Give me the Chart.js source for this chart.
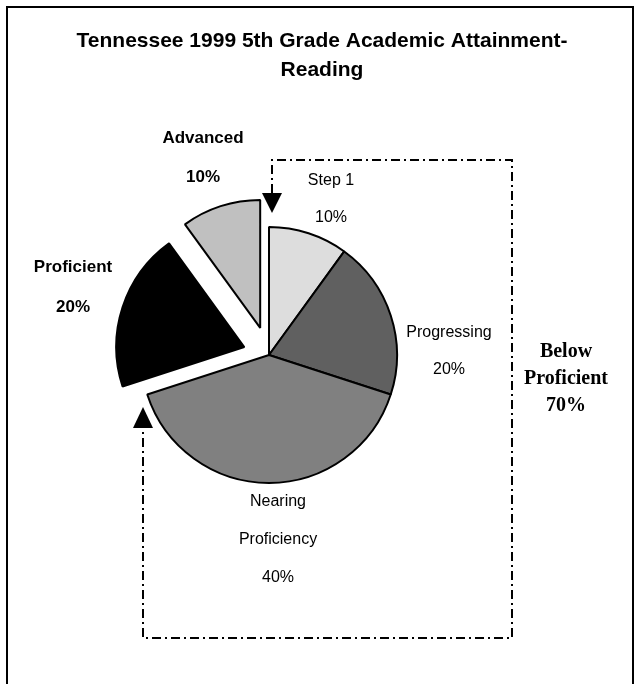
<!DOCTYPE html>
<html>
<head>
<meta charset="utf-8">
<style>
  html, body { margin: 0; padding: 0; background: #ffffff; }
</style>
</head>
<body>
<canvas id="pieChart" width="634" height="684"></canvas>
<script src="https://cdn.jsdelivr.net/npm/chart.js@4/dist/chart.umd.min.js"></script>
<script>
// chart values
const titleLines = ['Tennessee 1999 5th Grade Academic Attainment-', 'Reading'];
const categories = ['Step 1', 'Progressing', 'Nearing Proficiency', 'Proficient', 'Advanced'];
const percents = [10, 20, 40, 20, 10];
const labelLines = [['Step 1'], ['Progressing'], ['Nearing', 'Proficiency'], ['Proficient'], ['Advanced']];
const groupLines = ['Below', 'Proficient'];
const groupMembers = [0, 1, 2]; // slices inside the dashed bracket

// look
const sliceColors = ['#dddddd', '#606060', '#808080', '#000000', '#c0c0c0'];
// how far (px) each slice is pulled out from the centre
const sliceExplode = [0, 0, 0, 26, 28.5];
const boldLabels = [false, false, false, true, true];
// label position of first line, relative to pie centre, and line spacing
const labelOffsets = [[62, -174], [180, -22], [9, 147], [-196, -88], [-66, -217]];
const labelSpacing = [37, 37, 38, 40, 39];

// chart.js "offset" also narrows the slice, so move the arc centre instead
const explode = {
    id: 'explode',
    afterDatasetUpdate(chart, args) {
        const area = chart.chartArea;
        const cx = (area.left + area.right) / 2;
        const cy = (area.top + area.bottom) / 2;
        args.meta.data.forEach((arc, i) => {
            const mid = (arc.startAngle + arc.endAngle) / 2;
            arc.x = cx + Math.cos(mid) * sliceExplode[i];
            arc.y = cy + Math.sin(mid) * sliceExplode[i];
        });
    }
};

const overlay = {
    id: 'overlay',
    afterDraw(chart) {
        const ctx = chart.ctx;
        const arcs = chart.getDatasetMeta(0).data;
        const cx = arcs[0].x;
        const cy = arcs[0].y;

        ctx.save();
        // outer frame
        ctx.strokeStyle = '#000';
        ctx.lineWidth = 2;
        ctx.beginPath();
        ctx.moveTo(7, 700);
        ctx.lineTo(7, 7);
        ctx.lineTo(633, 7);
        ctx.lineTo(633, 700);
        ctx.stroke();

        // title
        ctx.fillStyle = '#000';
        ctx.textAlign = 'center';
        ctx.textBaseline = 'middle';
        ctx.font = 'bold 21px "Liberation Sans", Arial, sans-serif';
        titleLines.forEach((t, i) => ctx.fillText(t, 322, 41 + i * 29));

        // slice labels
        const total = percents.reduce((a, b) => a + b, 0);
        arcs.forEach((arc, i) => {
            const pct = Math.round(percents[i] / total * 100) + '%';
            const lines = labelLines[i].concat([pct]);
            ctx.font = (boldLabels[i] ? 'bold 17px ' : '16px ') + '"Liberation Sans", Arial, sans-serif';
            lines.forEach((t, j) => {
                ctx.fillText(t, cx + labelOffsets[i][0], cy + labelOffsets[i][1] + j * labelSpacing[i]);
            });
        });

        // group label
        const groupPct = groupMembers.reduce((s, k) => s + percents[k], 0) + '%';
        ctx.font = 'bold 20px "Liberation Serif", "Times New Roman", serif';
        groupLines.concat([groupPct]).forEach((t, j) => ctx.fillText(t, cx + 297, cy - 3 + j * 27));

        // dash-dot bracket
        ctx.setLineDash([9, 4, 2, 4]);
        ctx.lineWidth = 2;
        ctx.beginPath();
        ctx.moveTo(cx + 3, 193);
        ctx.lineTo(cx + 3, 160);
        ctx.lineTo(512, 160);
        ctx.lineTo(512, 638);
        ctx.lineTo(143, 638);
        ctx.lineTo(143, 428);
        ctx.stroke();
        ctx.setLineDash([]);

        // arrow heads
        ctx.beginPath();
        ctx.moveTo(cx + 3 - 10, 193);
        ctx.lineTo(cx + 3 + 10, 193);
        ctx.lineTo(cx + 3, 213);
        ctx.closePath();
        ctx.fill();
        ctx.beginPath();
        ctx.moveTo(133, 428);
        ctx.lineTo(153, 428);
        ctx.lineTo(143, 407);
        ctx.closePath();
        ctx.fill();
        ctx.restore();
    }
};

new Chart(document.getElementById('pieChart').getContext('2d'), {
    type: 'pie',
    data: {
        labels: categories,
        datasets: [{
            data: percents,
            backgroundColor: sliceColors,
            borderColor: '#000000',
            borderWidth: 2,
            radius: 128
        }]
    },
    options: {
        responsive: false,
        animation: false,
        events: [],
        layout: { padding: { left: 0, right: 96, top: 26, bottom: 0 } },
        plugins: {
            legend: { display: false },
            tooltip: { enabled: false },
            title: { display: false }
        }
    },
    plugins: [explode, overlay]
});
</script>
</body>
</html>
